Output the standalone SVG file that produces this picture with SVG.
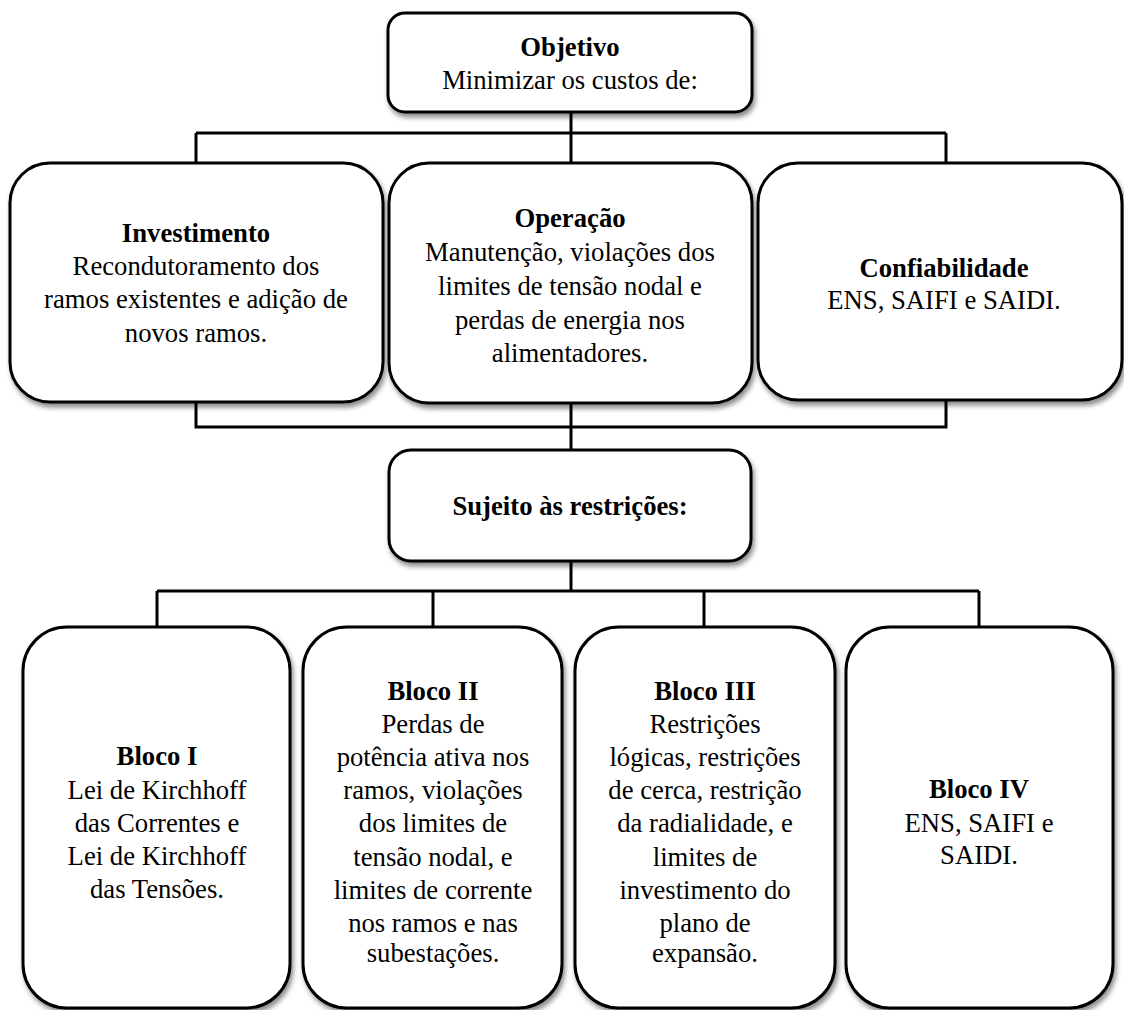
<svg xmlns="http://www.w3.org/2000/svg" width="1124" height="1010" viewBox="0 0 1124 1010" font-family="Liberation Serif, DejaVu Serif, serif">
<defs>
<filter id="sh" x="-10%" y="-10%" width="125%" height="125%">
<feDropShadow dx="2" dy="4" stdDeviation="2.5" flood-color="#000" flood-opacity="0.45"/>
</filter>
<style>
.box{fill:#fff;stroke:#000;stroke-width:3;filter:url(#sh)}
.conn{stroke:#000;stroke-width:3;fill:none}
.t{font-family:'Liberation Serif',serif;font-size:26.7px;fill:#000;text-anchor:middle}
.b{font-weight:bold}
</style>
</defs>
<rect width="1124" height="1010" fill="#fff"/>
<g id="connectors">
<path class="conn" d="M571 112V163M196 133H946M196 133V163M946 133V163"/>
<path class="conn" d="M196 402V427H946V400M571 403V450"/>
<path class="conn" d="M571 561V591M157 591H979M157 591V627M433 591V627M704 591V627M979 591V627"/>
</g>
<g id="objetivo" class="t">
<rect class="box" x="388" y="13" width="364" height="99" rx="17"/>
<text x="570" y="56" class="b">Objetivo</text>
<text x="570" y="89">Minimizar os custos de:</text>
</g>
<g id="investimento" class="t">
<rect class="box" x="10" y="163" width="373" height="239" rx="40"/>
<text x="196" y="242" class="b">Investimento</text>
<text x="196" y="275">Recondutoramento dos</text>
<text x="196" y="308">ramos existentes e adição de</text>
<text x="196" y="342">novos ramos.</text>
</g>
<g id="operacao" class="t">
<rect class="box" x="389" y="163" width="363" height="240" rx="40"/>
<text x="570" y="227" class="b">Operação</text>
<text x="570" y="261">Manutenção, violações dos</text>
<text x="570" y="295">limites de tensão nodal e</text>
<text x="570" y="329">perdas de energia nos</text>
<text x="570" y="362">alimentadores.</text>
</g>
<g id="confiabilidade" class="t">
<rect class="box" x="758" y="163" width="364" height="237" rx="40"/>
<text x="944" y="277" class="b">Confiabilidade</text>
<text x="944" y="309">ENS, SAIFI e SAIDI.</text>
</g>
<g id="sujeito" class="t">
<rect class="box" x="389" y="450" width="362" height="111" rx="22"/>
<text x="570" y="515" class="b">Sujeito às restrições:</text>
</g>
<g id="bloco1" class="t">
<rect class="box" x="23" y="627" width="267" height="381" rx="44"/>
<text x="157" y="765" class="b">Bloco I</text>
<text x="157" y="799">Lei de Kirchhoff</text>
<text x="157" y="832">das Correntes e</text>
<text x="157" y="865">Lei de Kirchhoff</text>
<text x="157" y="898">das Tensões.</text>
</g>
<g id="bloco2" class="t">
<rect class="box" x="303" y="627" width="259" height="381" rx="44"/>
<text x="433" y="700" class="b">Bloco II</text>
<text x="433" y="733">Perdas de</text>
<text x="433" y="766">potência ativa nos</text>
<text x="433" y="799">ramos, violações</text>
<text x="433" y="832">dos limites de</text>
<text x="433" y="866">tensão nodal, e</text>
<text x="433" y="899">limites de corrente</text>
<text x="433" y="932">nos ramos e nas</text>
<text x="433" y="962">subestações.</text>
</g>
<g id="bloco3" class="t">
<rect class="box" x="575" y="627" width="260" height="381" rx="44"/>
<text x="705" y="700" class="b">Bloco III</text>
<text x="705" y="733">Restrições</text>
<text x="705" y="766">lógicas, restrições</text>
<text x="705" y="799">de cerca, restrição</text>
<text x="705" y="832">da radialidade, e</text>
<text x="705" y="866">limites de</text>
<text x="705" y="899">investimento do</text>
<text x="705" y="932">plano de</text>
<text x="705" y="962">expansão.</text>
</g>
<g id="bloco4" class="t">
<rect class="box" x="846" y="627" width="267" height="381" rx="44"/>
<text x="979" y="798" class="b">Bloco IV</text>
<text x="979" y="832">ENS, SAIFI e</text>
<text x="979" y="864">SAIDI.</text>
</g>
</svg>
